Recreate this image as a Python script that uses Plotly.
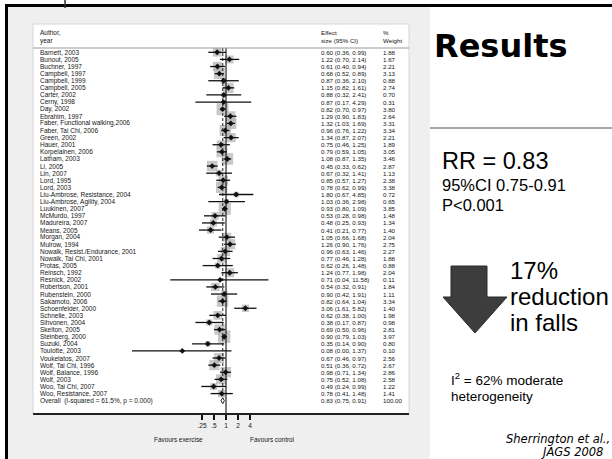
import plotly.graph_objects as go
import math

authors = [
    "Barnett, 2003", "Bunout, 2005", "Buchner, 1997", "Campbell, 1997", "Campbell, 1999",
    "Campbell, 2005", "Carter, 2002", "Cerny, 1998", "Day, 2002", "Ebrahim, 1997",
    "Faber, Functional walking,2006", "Faber, Tai Chi, 2006", "Green, 2002", "Hauer, 2001",
    "Korpelainen, 2006", "Latham, 2003", "Li, 2005", "Lin, 2007", "Lord, 1995", "Lord, 2003",
    "Liu-Ambrose, Resistance, 2004", "Liu-Ambrose, Agility, 2004", "Luukinen, 2007",
    "McMurdo, 1997", "Madureira, 2007", "Means, 2005", "Morgan, 2004", "Mulrow, 1994",
    "Nowalk, Resist./Endurance, 2001", "Nowalk, Tai Chi, 2001", "Protas, 2005", "Reinsch, 1992",
    "Resnick, 2002", "Robertson, 2001", "Rubenstein, 2000", "Sakamoto, 2006",
    "Schoenfelder, 2000", "Schnelle, 2003", "Sihvonen, 2004", "Skelton, 2005",
    "Steinberg, 2000", "Suzuki, 2004", "Toulotte, 2003", "Voukelatos, 2007",
    "Wolf, Tai Chi, 1996", "Wolf, Balance, 1996", "Wolf, 2003", "Woo, Tai Chi, 2007",
    "Woo, Resistance, 2007", "Overall  (I-squared = 61.5%, p = 0.000)",
]
effect = [0.60, 1.22, 0.61, 0.68, 0.87, 1.15, 0.88, 0.87, 0.82, 1.29,
          1.32, 0.96, 1.34, 0.75, 0.79, 1.08, 0.45, 0.67, 0.85, 0.78,
          1.80, 1.03, 0.93, 0.53, 0.48, 0.41, 1.05, 1.26, 0.96, 0.77,
          0.62, 1.24, 0.71, 0.54, 0.90, 0.82, 3.06, 0.62, 0.38, 0.69,
          0.90, 0.35, 0.08, 0.67, 0.51, 0.98, 0.75, 0.49, 0.78, 0.83]
ci_low = [0.36, 0.70, 0.40, 0.52, 0.36, 0.82, 0.32, 0.17, 0.70, 0.90,
          1.03, 0.76, 0.87, 0.46, 0.59, 0.87, 0.33, 0.32, 0.57, 0.62,
          0.67, 0.36, 0.80, 0.28, 0.25, 0.21, 0.66, 0.90, 0.63, 0.46,
          0.26, 0.77, 0.04, 0.32, 0.42, 0.64, 1.61, 0.38, 0.17, 0.50,
          0.79, 0.14, 0.00, 0.46, 0.36, 0.71, 0.52, 0.24, 0.41, 0.75]
ci_high = [0.99, 2.14, 0.94, 0.89, 2.10, 1.61, 2.41, 4.29, 0.97, 1.83,
           1.69, 1.22, 2.07, 1.25, 1.05, 1.35, 0.62, 1.41, 1.27, 0.99,
           4.85, 2.98, 1.09, 0.98, 0.93, 0.77, 1.68, 1.76, 1.46, 1.28,
           1.48, 1.98, 11.58, 0.91, 1.91, 1.04, 5.82, 1.00, 0.87, 0.96,
           1.03, 0.90, 1.37, 0.97, 0.72, 1.34, 1.08, 0.99, 1.48, 0.91]
weight = [1.88, 1.67, 2.21, 3.13, 0.88, 2.74, 0.70, 0.31, 3.80, 2.64,
          3.31, 3.34, 2.21, 1.89, 3.05, 3.46, 2.87, 1.13, 2.38, 3.38,
          0.72, 0.65, 3.85, 1.48, 1.34, 1.40, 2.04, 2.75, 2.27, 1.88,
          0.88, 2.04, 0.11, 1.84, 1.11, 3.34, 1.40, 1.98, 0.98, 2.81,
          3.97, 0.80, 0.10, 2.56, 2.67, 2.86, 2.58, 1.22, 1.41, 100.00]
tick_vals = [0.25, 0.5, 1, 2, 4]
tick_text = [".25", ".5", "1", "2", "4"]

W, H = 612, 459


def px(x):
    return x / W


def py(y):
    return 1 - y / H


n = len(authors)
n_study = n - 1
rows = list(range(n))

# forest axis geometry (log scale)
XLOG = [-2.358, 1.856]
x_floor = 10 ** XLOG[0]
Y_TOP_PIX, Y_BOT_PIX = 48, 414
ROW0, ROWSTEP = 52.3, 7.11
yrange = [(Y_BOT_PIX - ROW0) / ROWSTEP, (Y_TOP_PIX - ROW0) / ROWSTEP]

TXT = "#151515"
FONT = "Liberation Sans"

fig = go.Figure()

# weight boxes
fig.add_trace(go.Scatter(
    x=effect[:n_study], y=rows[:n_study], mode="markers",
    marker=dict(symbol="square", size=[6.2 * math.sqrt(w) for w in weight[:n_study]],
                color="#b0b0b0", line=dict(width=0)),
    hoverinfo="skip"))

# null line at 1
fig.add_trace(go.Scatter(x=[1, 1], y=[yrange[1], yrange[0]], mode="lines",
                         line=dict(color="#111", width=1.1), hoverinfo="skip"))
# overall dashed line
fig.add_trace(go.Scatter(x=[effect[-1], effect[-1]], y=[-0.6, n - 1.3], mode="lines",
                         line=dict(color="#222", width=1, dash="3px,2px"), hoverinfo="skip"))

# CI lines
xs, ys = [], []
for i in range(n_study):
    xs += [max(ci_low[i], x_floor), ci_high[i], None]
    ys += [rows[i], rows[i], None]
fig.add_trace(go.Scatter(x=xs, y=ys, mode="lines", line=dict(color="#111", width=1.3),
                         hoverinfo="skip"))

# point estimates
fig.add_trace(go.Scatter(x=effect[:n_study], y=rows[:n_study], mode="markers",
                         marker=dict(symbol="diamond", size=4.5, color="#111"),
                         hoverinfo="skip"))

# overall diamond
r = rows[-1]
fig.add_trace(go.Scatter(
    x=[ci_low[-1], effect[-1], ci_high[-1], effect[-1], ci_low[-1]],
    y=[r, r - 0.42, r, r + 0.42, r], mode="lines", fill="toself",
    fillcolor="white", line=dict(color="#222", width=1), hoverinfo="skip"))

annotations = []
for i in range(n):
    annotations.append(dict(x=px(38), y=rows[i], xref="paper", yref="y", xanchor="left",
                            yanchor="middle", text=authors[i], showarrow=False,
                            font=dict(family=FONT, size=6.5, color=TXT)))
    annotations.append(dict(x=px(319), y=rows[i], xref="paper", yref="y", xanchor="left",
                            yanchor="middle",
                            text=f"{effect[i]:.2f} ({ci_low[i]:.2f}, {ci_high[i]:.2f})",
                            showarrow=False, font=dict(family=FONT, size=6.2, color=TXT)))
    annotations.append(dict(x=px(381), y=rows[i], xref="paper", yref="y", xanchor="left",
                            yanchor="middle", text=f"{weight[i]:.2f}", showarrow=False,
                            font=dict(family=FONT, size=6.2, color=TXT)))


def note(x, y, text, size, family=FONT, color="#000", xanchor="left", yanchor="middle"):
    annotations.append(dict(x=px(x), y=py(y), xref="paper", yref="paper", text=text,
                            showarrow=False, xanchor=xanchor, yanchor=yanchor,
                            font=dict(family=family, size=size, color=color)))


# headers
note(38, 32, "Author,", 6.5, color=TXT)
note(38, 41, "year", 6.5, color=TXT)
note(319, 32, "Effect", 6.2, color=TXT)
note(319, 41, "size (95% CI)", 6.2, color=TXT)
note(381, 32, "%", 6.2, color=TXT)
note(381, 41, "Weight", 6.2, color=TXT)
note(178, 439, "Favours exercise", 6.4, color=TXT, xanchor="center")
note(271.5, 439, "Favours control", 6.4, color=TXT, xanchor="center")

# right-hand slide text
note(432, 46, "<b>Results</b>", 32, family="DejaVu Sans")
note(440, 161, "RR = 0.83", 23.5)
note(440, 185, "95%CI 0.75-0.91", 16.5)
note(440, 205, "P<0.001", 16.5)
note(508, 270, "17%", 24)
note(508, 296, "reduction", 24)
note(508, 322, "in falls", 24)
note(449, 379, "I<sup>2</sup> = 62% moderate", 13.5)
note(449, 396, "heterogeneity", 13.5)
note(612, 439, "<i>Sherrington et al.,</i>", 11.5, family="DejaVu Sans", xanchor="right")
note(605, 452, "<i>JAGS 2008</i>", 11.5, family="DejaVu Sans", xanchor="right")

shapes = [
    dict(type="rect", xref="paper", yref="paper", x0=px(8), x1=px(430), y0=py(459), y1=py(7),
         fillcolor="#efefef", line=dict(width=0), layer="below"),
    dict(type="rect", xref="paper", yref="paper", x0=px(33), x1=px(409), y0=py(414), y1=py(24),
         fillcolor="white", line=dict(color="#d6d6d6", width=1), layer="below"),
    dict(type="line", xref="paper", yref="paper", x0=px(33), x1=px(409), y0=py(48), y1=py(48),
         line=dict(color="#9a9a9a", width=1)),
    dict(type="line", xref="paper", yref="paper", x0=px(33), x1=px(409), y0=py(414), y1=py(414),
         line=dict(color="#222", width=2)),
    dict(type="line", xref="paper", yref="paper", x0=px(5), x1=px(612), y0=py(5.5), y1=py(5.5),
         line=dict(color="#000", width=3)),
    dict(type="line", xref="paper", yref="paper", x0=px(6.5), x1=px(6.5), y0=py(4), y1=py(459),
         line=dict(color="#000", width=3)),
    dict(type="line", xref="paper", yref="paper", x0=px(65), x1=px(65), y0=py(0), y1=py(8),
         line=dict(color="#333", width=1.5)),
    dict(type="line", xref="paper", yref="paper", x0=px(430), x1=px(612), y0=py(128), y1=py(128),
         line=dict(color="#8a8a8a", width=1.5)),
    dict(type="path", xref="paper", yref="paper",
         path=(f"M {px(451)},{py(266)} L {px(487)},{py(266)} L {px(487)},{py(297)} "
               f"L {px(507)},{py(297)} L {px(475)},{py(333)} L {px(443)},{py(297)} "
               f"L {px(451)},{py(297)} Z"),
         fillcolor="#3d3d3d", line=dict(color="#2a2a2a", width=1)),
]

fig.update_layout(
    width=W, height=H, margin=dict(l=0, r=0, t=0, b=0),
    paper_bgcolor="white", plot_bgcolor="rgba(0,0,0,0)", showlegend=False,
    xaxis=dict(type="log", range=XLOG, domain=[px(132), px(300)], anchor="y",
               tickvals=tick_vals, ticktext=tick_text, ticks="outside", ticklen=5,
               tickwidth=1.5, tickcolor="#111", showline=False, showgrid=False,
               zeroline=False, tickfont=dict(family=FONT, size=6.5, color=TXT)),
    yaxis=dict(range=yrange, domain=[py(Y_BOT_PIX), py(Y_TOP_PIX)], visible=False),
    annotations=annotations, shapes=shapes,
)

fig.write_html(
    "out.html",
    config={"displayModeBar": False, "staticPlot": True},
    post_script="document.body.style.margin='0';document.body.style.padding='0';"
                "document.body.style.overflow='hidden';",
)
